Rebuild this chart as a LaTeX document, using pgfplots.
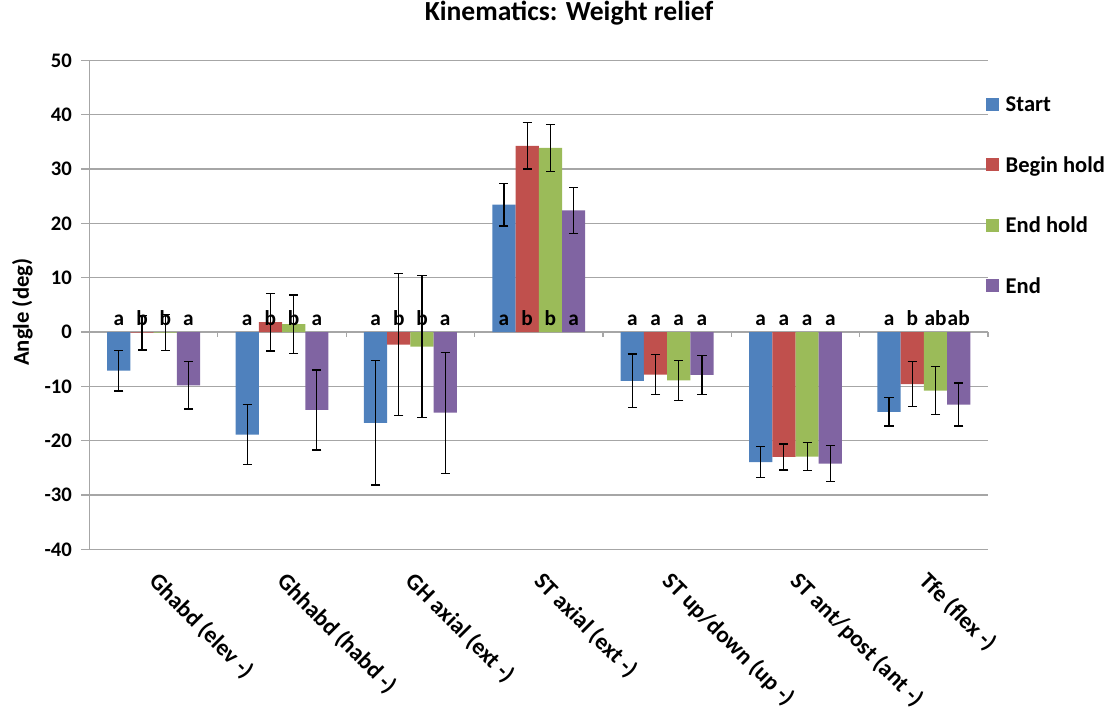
\documentclass[border=0pt]{standalone}
\usepackage{fontspec}
\setmainfont{Carlito}
\usepackage{pgfplots}
\pgfplotsset{compat=1.18}

\definecolor{cStart}{HTML}{4F81BD}
\definecolor{cBegin}{HTML}{C0504D}
\definecolor{cEndHold}{HTML}{9BBB59}
\definecolor{cEnd}{HTML}{8064A2}
\definecolor{gridgray}{HTML}{A6A6A6}

\newcommand\lab[1]{\fontsize{#1}{#1}\selectfont\bfseries}

% bars are placed at their own x (category index + offset), so no bar shift
\pgfplotsset{
  meanbar/.style={ybar, bar width=0.181, bar shift=0pt, draw=none,
    error bars/y dir=both, error bars/y explicit,
    error bars/error bar style={black, line width=0.9pt},
    error bars/error mark options={rotate=90, black, mark size=3.4pt, line width=0.9pt}},
}

\begin{document}
\begin{tikzpicture}
\useasboundingbox (-67.1pt,-117.5pt) rectangle (769.1pt,412pt);
\begin{axis}[
  at={(0,0)}, anchor=south west,
  scale only axis,
  width=673.9pt, height=366.75pt,
  xmin=-0.5, xmax=6.5,
  ymin=-40, ymax=50,
  ytick={-40,-30,...,50},
  xtick={0,...,6},
  xticklabels={Ghabd (elev -),Ghhabd (habd -),GH axial (ext -),ST axial (ext -),ST up/down (up -),ST ant/post (ant -),Tfe (flex -)},
  axis y line*=left, axis x line*=bottom,
  axis line style={gridgray, line width=0.9pt},
  ymajorgrids, grid style={gridgray, line width=0.9pt},
  major tick length=6pt, tick align=outside,
  y tick style={gridgray, line width=0.9pt},
  x tick style={draw=none},
  /pgf/number format/assume math mode=true,
  yticklabel style={font=\lab{15.5pt}, inner sep=0pt, xshift=-7pt},
  xticklabel style={font=\lab{17.5pt}, rotate=-45, anchor=north west, inner sep=0pt, xshift=10.35pt, yshift=-3.24pt},
  ylabel={Angle (deg)},
  ylabel style={font=\lab{17pt}, at={(axis description cs:-0.0746,0.485)}, anchor=center},
  title={Kinematics: Weight relief},
  title style={font=\lab{20.7pt}, at={(axis description cs:0.5337,1.0654)}, anchor=base, inner sep=0pt},
  legend style={at={(axis description cs:0.99778,0.9357)}, anchor=north west,
    draw=none, fill=none, inner sep=0pt, outer sep=0pt, row sep=26.6pt,
    nodes={font=\lab{16.9pt}, inner xsep=5pt, inner ysep=0pt, text height=14.8pt, text depth=4pt}},
  legend cell align=left,
  legend image code/.code={\fill[#1] (0pt,-4.875pt) rectangle (9.75pt,4.875pt);},
  clip=false,
]
% category axis at zero with boundary ticks
\draw[gridgray, line width=0.9pt] (axis cs:-0.5,0) -- (axis cs:6.5,0);
\draw[gridgray, line width=0.9pt] (axis cs:0.5,0) -- ([yshift=-4pt]axis cs:0.5,0);
\draw[gridgray, line width=0.9pt] (axis cs:1.5,0) -- ([yshift=-4pt]axis cs:1.5,0);
\draw[gridgray, line width=0.9pt] (axis cs:2.5,0) -- ([yshift=-4pt]axis cs:2.5,0);
\draw[gridgray, line width=0.9pt] (axis cs:3.5,0) -- ([yshift=-4pt]axis cs:3.5,0);
\draw[gridgray, line width=0.9pt] (axis cs:4.5,0) -- ([yshift=-4pt]axis cs:4.5,0);
\draw[gridgray, line width=0.9pt] (axis cs:5.5,0) -- ([yshift=-4pt]axis cs:5.5,0);
\draw[gridgray, line width=0.9pt] (axis cs:6.5,0) -- ([yshift=-4pt]axis cs:6.5,0);

% Start
\addplot[meanbar, fill=cStart]
  coordinates {(-0.2715,-7.1) +- (0,3.75) (0.7285,-18.9) +- (0,5.55) (1.7285,-16.7) +- (0,11.45)
    (2.7285,23.45) +- (0,3.95) (3.7285,-9.0) +- (0,4.95) (4.7285,-23.95) +- (0,2.85) (5.7285,-14.7) +- (0,2.6)};
\addlegendentry{Start}
% Begin hold
\addplot[meanbar, fill=cBegin]
  coordinates {(-0.0905,-0.1) +- (0,3.2) (0.9095,1.8) +- (0,5.3) (1.9095,-2.3) +- (0,13.1)
    (2.9095,34.25) +- (0,4.25) (3.9095,-7.85) +- (0,3.65) (4.9095,-23.0) +- (0,2.4) (5.9095,-9.6) +- (0,4.15)};
\addlegendentry{Begin hold}
% End hold
\addplot[meanbar, fill=cEndHold]
  coordinates {(0.0905,-0.1) +- (0,3.3) (1.0905,1.45) +- (0,5.35) (2.0905,-2.7) +- (0,13.1)
    (3.0905,33.9) +- (0,4.3) (4.0905,-8.9) +- (0,3.7) (5.0905,-22.95) +- (0,2.55) (6.0905,-10.8) +- (0,4.4)};
\addlegendentry{End hold}
% End
\addplot[meanbar, fill=cEnd]
  coordinates {(0.2715,-9.8) +- (0,4.35) (1.2715,-14.35) +- (0,7.35) (2.2715,-14.85) +- (0,11.15)
    (3.2715,22.4) +- (0,4.2) (4.2715,-7.9) +- (0,3.6) (5.2715,-24.2) +- (0,3.3) (6.2715,-13.35) +- (0,3.95)};
\addlegendentry{End}

% significance letters
\addplot[draw=none, mark=none, forget plot, nodes near coords, point meta=explicit symbolic,
  nodes near coords style={anchor=base, inner sep=0pt, font=\lab{16pt}}]
  coordinates {
    (-0.2715,1.2) [a] (-0.0905,1.2) [b] (0.0905,1.2) [b] (0.2715,1.2) [a]
    (0.7285,1.2) [a] (0.9095,1.2) [b] (1.0905,1.2) [b] (1.2715,1.2) [a]
    (1.7285,1.2) [a] (1.9095,1.2) [b] (2.0905,1.2) [b] (2.2715,1.2) [a]
    (2.7285,1.2) [a] (2.9095,1.2) [b] (3.0905,1.2) [b] (3.2715,1.2) [a]
    (3.7285,1.2) [a] (3.9095,1.2) [a] (4.0905,1.2) [a] (4.2715,1.2) [a]
    (4.7285,1.2) [a] (4.9095,1.2) [a] (5.0905,1.2) [a] (5.2715,1.2) [a]
    (5.7285,1.2) [a] (5.9095,1.2) [b] (6.0905,1.2) [ab] (6.2715,1.2) [ab]
  };
\end{axis}
\end{tikzpicture}
\end{document}
